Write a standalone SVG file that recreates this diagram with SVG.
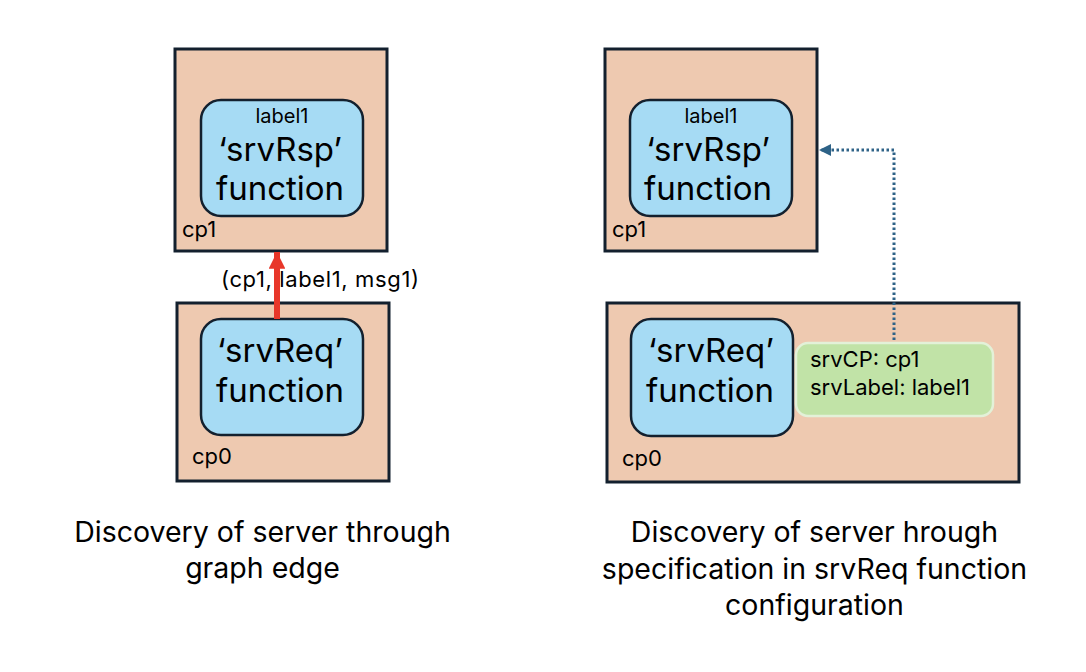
<svg xmlns="http://www.w3.org/2000/svg" width="1086" height="672" viewBox="0 0 1086 672">
<defs>
<style>
.cp{fill:#eec9b0;stroke:#13202e;stroke-width:3}
.fn{fill:#a6dbf4;stroke:#13202e;stroke-width:2.5}
.cfg{fill:#c1e3a7;stroke:#e3f1d8;stroke-width:2.5}
text{font-family:Inter,"Liberation Sans",Arial,sans-serif;fill:#000}
.s{font-size:22px}
.big{font-size:33px;text-anchor:middle}
.lab{font-size:20px;text-anchor:middle}
.cap{font-size:28.5px;text-anchor:middle}
</style>
<marker id="redhead" viewBox="0 0 10 10" refX="10" refY="5" markerWidth="2.8" markerHeight="2.8" orient="auto" markerUnits="strokeWidth">
<path d="M0,0 L10,5 L0,10 z" fill="#e8372a"/>
</marker>
<marker id="bluehead" viewBox="0 0 10 10" refX="10" refY="5" markerWidth="4" markerHeight="4" orient="auto" markerUnits="strokeWidth">
<path d="M0,0 L10,5 L0,10 z" fill="#2e6287"/>
</marker>
</defs>
<rect width="1086" height="672" fill="#fff"/>

<g id="left-cp1">
<rect class="cp" x="175" y="49" width="212" height="202"/>
<rect class="fn" x="201" y="100" width="162" height="116" rx="20"/>
<text class="lab" x="282" y="123">label1</text>
<text class="big" x="280" y="161">‘srvRsp’</text>
<text class="big" x="280" y="200">function</text>
<text class="s" x="182" y="237">cp1</text>
</g>

<g id="left-cp0">
<rect class="cp" x="177" y="303" width="212" height="178"/>
<rect class="fn" x="201" y="319" width="162" height="116" rx="20"/>
<text class="big" x="280" y="362">‘srvReq’</text>
<text class="big" x="280" y="402">function</text>
<text class="s" x="192" y="464">cp0</text>
</g>

<g id="right-cp1">
<rect class="cp" x="605" y="49" width="212" height="202"/>
<rect class="fn" x="630" y="100" width="162" height="116" rx="20"/>
<text class="lab" x="711" y="123">label1</text>
<text class="big" x="708" y="161">‘srvRsp’</text>
<text class="big" x="708" y="200">function</text>
<text class="s" x="612" y="237">cp1</text>
</g>

<g id="right-cp0">
<rect class="cp" x="607" y="303" width="412" height="179"/>
<rect class="fn" x="631" y="319" width="162" height="117" rx="20"/>
<text class="big" x="711" y="362">‘srvReq’</text>
<text class="big" x="710" y="402">function</text>
<text class="s" x="622" y="466">cp0</text>
</g>

<g id="config">
<rect class="cfg" x="796" y="343" width="197" height="73" rx="12"/>
<text class="s" x="810" y="367">srvCP: cp1</text>
<text class="s" x="810" y="395">srvLabel: label1</text>
</g>

<g id="connectors">
<line x1="277" y1="319" x2="277" y2="252" stroke="#e8372a" stroke-width="6" marker-end="url(#redhead)"/>
<polyline points="894,340 894,150 819,150" fill="none" stroke="#2e6287" stroke-width="3" stroke-dasharray="2.5 2.5" marker-end="url(#bluehead)"/>
</g>
<text class="s" x="221" y="287" textLength="198">(cp1, label1, msg1)</text>

<g id="captions">
<text class="cap" x="262.5" y="542">Discovery of server through</text>
<text class="cap" x="262.5" y="578">graph edge</text>
<text class="cap" x="814.5" y="542">Discovery of server hrough</text>
<text class="cap" x="814.5" y="579">specification in srvReq function</text>
<text class="cap" x="814.5" y="615">configuration</text>
</g>
</svg>
